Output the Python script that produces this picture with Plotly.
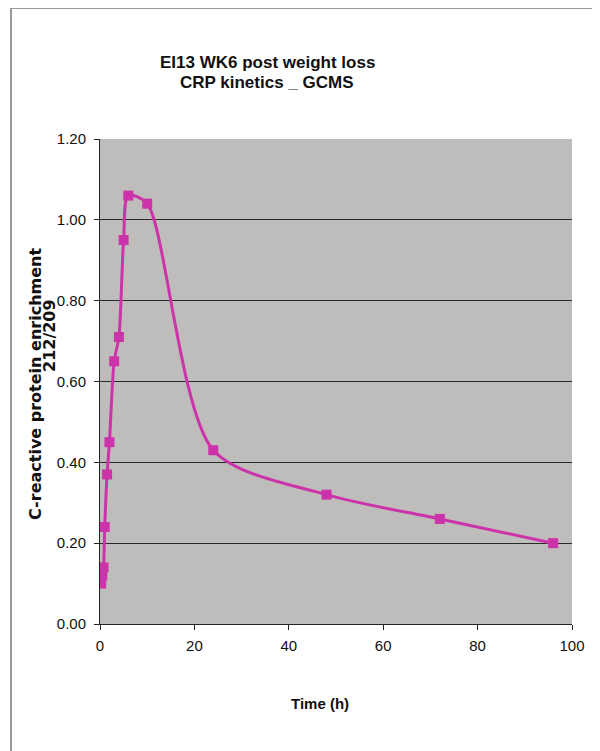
import plotly.graph_objects as go

# CRP enrichment over time
time_h = [0.25, 0.5, 0.75, 1, 1.5, 2, 3, 4, 5, 6, 10, 24, 48, 72, 96]
enrichment = [0.10, 0.12, 0.14, 0.24, 0.37, 0.45, 0.65, 0.71, 0.95, 1.06, 1.04, 0.43, 0.32, 0.26, 0.20]

y_ticks = [0, 0.2, 0.4, 0.6, 0.8, 1.0, 1.2]
x_ticks = [0, 20, 40, 60, 80, 100]

font_main = "Liberation Sans, Arial"

# the page body has an 8px margin, so work in page pixels and shift
OFF = 8
W, H = 600 - OFF, 751 - OFF
# plot area edges in page pixels
left, right, top, bottom = 100, 572, 139, 624
L, R, T, B = left - OFF, W - (right - OFF), top - OFF, H - (bottom - OFF)
pw, ph = W - L - R, H - T - B


def px_x(px):
    return (px - left) / pw


def px_y(py):
    return (bottom - py) / ph


def label(text, x, y, size, angle=0, family=font_main):
    return dict(text=text, x=px_x(x), y=px_y(y), xref='paper', yref='paper',
                xanchor='center', yanchor='middle', textangle=angle,
                showarrow=False, font=dict(size=size, family=family))


fig = go.Figure()

fig.add_trace(go.Scatter(
    x=time_h,
    y=enrichment,
    mode='lines+markers',
    line=dict(color='#CC33AA', width=3, shape='spline', smoothing=0.8),
    marker=dict(symbol='square', size=10, color='#CC33AA'),
    showlegend=False,
))

fig.update_layout(
    width=W,
    height=H,
    paper_bgcolor='white',
    plot_bgcolor='#BFBDBB',
    margin=dict(l=L, r=R, t=T, b=B, autoexpand=False),
    font=dict(family=font_main, size=15, color='#111'),
    xaxis=dict(
        range=[0, 100],
        tickvals=x_ticks,
        showgrid=False,
        zeroline=False,
        automargin=False,
        ticks='outside', ticklen=5, tickcolor='#222',
        showline=True, linecolor='#222', linewidth=1,
        tickfont=dict(size=15),
        ticklabelstandoff=3,
    ),
    yaxis=dict(
        range=[0, 1.2],
        tickvals=y_ticks,
        tickformat='.2f',
        showgrid=True, gridcolor='#2a2a2a', gridwidth=1,
        zeroline=False,
        automargin=False,
        ticks='outside', ticklen=5, tickcolor='#222',
        showline=True, linecolor='#222', linewidth=1,
        tickfont=dict(size=15),
        ticklabelstandoff=5,
    ),
    annotations=[
        label('<b>EI13 WK6 post weight loss</b>', 267, 63, 17),
        label('<b>CRP kinetics _ GCMS</b>', 267, 83, 17),
        label('<b>Time (h)</b>', 320, 703, 15),
        label('<b>C-reactive protein enrichment</b>', 35, 384, 16, -90, 'DejaVu Sans'),
        label('<b>212/209</b>', 49, 336, 16, -90, 'DejaVu Sans'),
    ],
)

# frame around the figure (only top and left edges visible in the original)
fig.add_shape(type='rect', xref='paper', yref='paper',
              x0=px_x(11), x1=px_x(640), y0=px_y(800), y1=px_y(8),
              line=dict(color='#999', width=2), layer='below')

fig.write_html("out.html")
